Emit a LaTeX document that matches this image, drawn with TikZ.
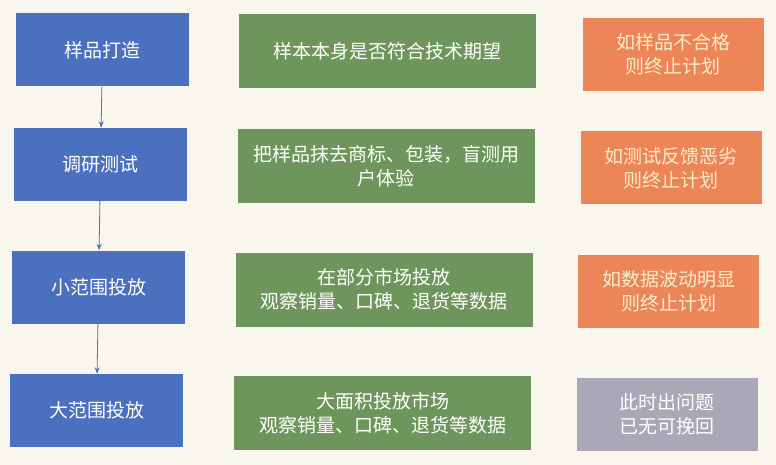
\documentclass[tikz,border=0pt]{standalone}
\usepackage{fontspec}
\setmainfont{Noto Sans CJK SC}
\usetikzlibrary{arrows.meta}
\definecolor{paper}{RGB}{249,246,237}
\definecolor{stepblue}{RGB}{76,112,192}
\definecolor{checkgreen}{RGB}{110,150,92}
\definecolor{stoporange}{RGB}{236,134,88}
\definecolor{lategray}{RGB}{168,168,182}
\definecolor{softtext}{RGB}{250,236,200}
\tikzset{>=Stealth}

\begin{document}
\begin{tikzpicture}[x=1pt,y=-1pt,
    box/.style={rectangle,inner sep=0pt,align=center,text=white,
      font=\fontsize{19}{24}\selectfont},
    stagebox/.style={box,fill=stepblue,minimum width=173pt,minimum height=73pt},
    checkbox/.style={box,fill=checkgreen,minimum width=297pt,minimum height=74pt},
    stopbox/.style={box,fill=stoporange,text=softtext,minimum width=181pt,minimum height=73pt},
    latebox/.style={box,fill=lategray,minimum width=181pt,minimum height=73pt}]
      \fill[paper] (0,0) rectangle (776,465);

      % stages
      \node[stagebox] (s1) at (102.5,50) {样品打造};
      \node[stagebox] (s2) at (100.5,164.5) {调研测试};
      \node[stagebox] (s3) at (98.5,287) {小范围投放};
      \node[stagebox] (s4) at (96.5,410.5) {大范围投放};

      % what is checked
      \node[checkbox] (c1) at (387.5,51.5) {样本本身是否符合技术期望};
      \node[checkbox] (c2) at (386,166.5) {把样品抹去商标、包装，盲测用\\户体验};
      \node[checkbox] (c3) at (384,289.5) {在部分市场投放\\观察销量、口碑、退货等数据};
      \node[checkbox] (c4) at (382.5,413) {大面积投放市场\\观察销量、口碑、退货等数据};

      % when to stop
      \node[stopbox] (e1) at (673,54.5) {如样品不合格\\则终止计划};
      \node[stopbox] (e2) at (671,168) {如测试反馈恶劣\\则终止计划};
      \node[stopbox] (e3) at (668.5,291.5) {如数据波动明显\\则终止计划};
      \node[latebox] (e4) at (667,414.5) {此时出问题\\已无可挽回};

      \draw[stepblue,line width=0.8pt,->] (s1)--(s2);
      \draw[stepblue,line width=0.8pt,->] (s2)--(s3);
      \draw[stepblue,line width=0.8pt,->] (s3)--(s4);
\end{tikzpicture}
\end{document}
